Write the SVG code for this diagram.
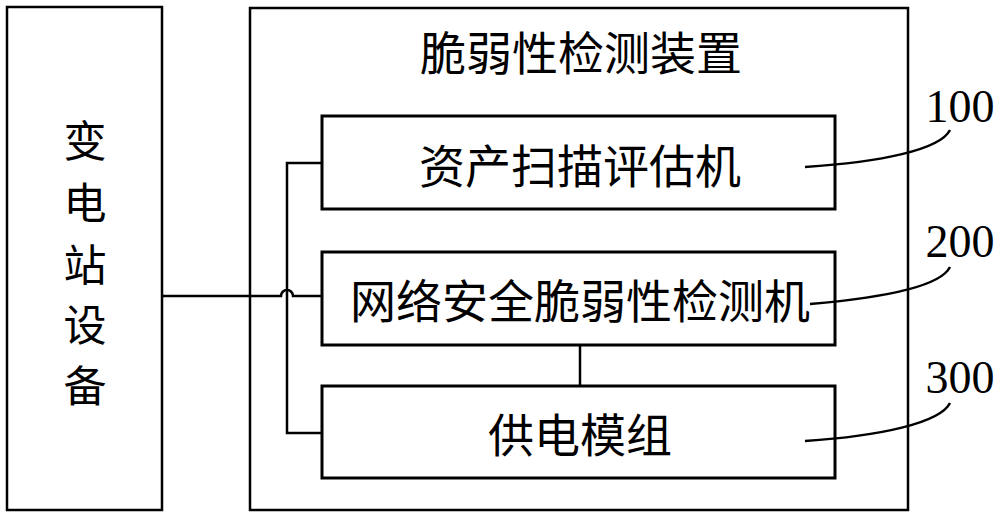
<svg xmlns="http://www.w3.org/2000/svg" width="1000" height="529" viewBox="0 0 1000 529">
<style>
.box{fill:none;stroke:#000;stroke-width:2.5}
.ibox{fill:none;stroke:#000;stroke-width:3}
.ln{fill:none;stroke:#000;stroke-width:2.5}
.t{font-family:"Noto Sans CJK SC","Noto Sans",sans-serif;font-size:46px;fill:#000;text-anchor:middle;dominant-baseline:central}
.v{font-size:43px}
.n{font-family:"Liberation Serif",serif;font-size:46px;fill:#000;text-anchor:middle}
</style>
<rect width="1000" height="529" fill="#fff"/>
<g id="substation">
<rect class="box" x="7" y="7" width="155" height="503"/>
<text class="t v" x="85" y="138">变</text>
<text class="t v" x="85" y="200">电</text>
<text class="t v" x="85" y="262">站</text>
<text class="t v" x="85" y="322">设</text>
<text class="t v" x="85" y="383">备</text>
</g>
<g id="device">
<rect class="box" x="250" y="8" width="658" height="502"/>
<text class="t" x="581" y="50">脆弱性检测装置</text>
</g>
<g id="node100">
<rect class="ibox" x="322" y="116" width="513" height="93"/>
<text class="t" x="580" y="163">资产扫描评估机</text>
</g>
<g id="node200">
<rect class="ibox" x="322" y="252" width="513" height="93"/>
<text class="t" x="580" y="298">网络安全脆弱性检测机</text>
</g>
<g id="node300">
<rect class="ibox" x="322" y="386" width="513" height="92"/>
<text class="t" x="580" y="432">供电模组</text>
</g>
<g id="connectors">
<path class="ln" d="M162,296 H281 A6,6 0 0 1 293,296 H322"/>
<path class="ln" d="M322,163 H287 V433 H322"/>
<path class="ln" d="M580,345 V386"/>
<path class="ln" d="M805,167 C880,162 940,150 950,130"/>
<path class="ln" d="M810,304 C880,298 940,287 950,267"/>
<path class="ln" d="M805,441 C880,436 940,423 950,403"/>
</g>
<g id="labels">
<text class="n" x="960" y="122">100</text>
<text class="n" x="960" y="257">200</text>
<text class="n" x="960" y="393">300</text>
</g>
</svg>
